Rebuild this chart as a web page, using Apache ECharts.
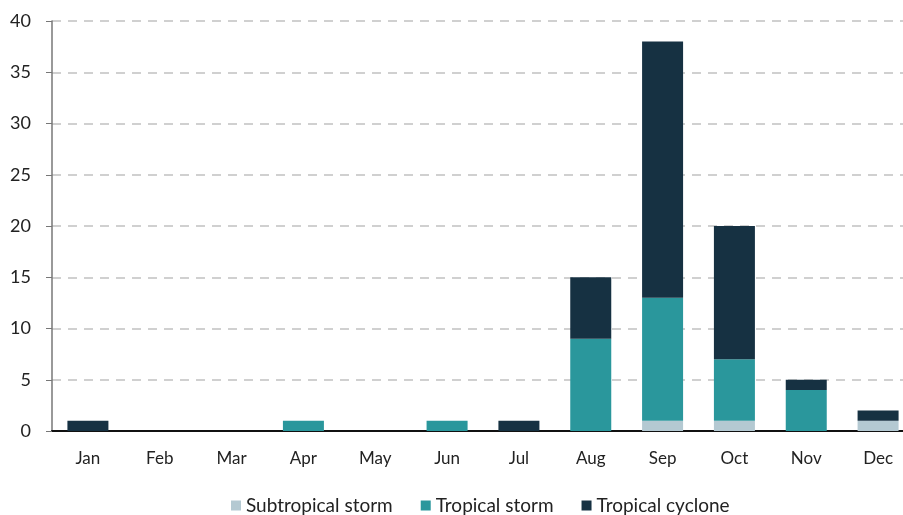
<!DOCTYPE html>
<html><head><meta charset="utf-8">
<script src="https://cdn.jsdelivr.net/npm/echarts@6/dist/echarts.min.js"></script>
<style>html,body{margin:0;padding:0;background:#fff}#c{width:903px;height:515px}</style>
</head><body><div id="c"></div>
<script>
const months = ['Jan','Feb','Mar','Apr','May','Jun','Jul','Aug','Sep','Oct','Nov','Dec'];
const subtropicalStorm = [0,0,0,0,0,0,0,0,1,1,0,1];
const tropicalStorm    = [0,0,0,1,0,1,0,9,12,6,4,0];
const tropicalCyclone  = [1,0,0,0,0,0,1,6,25,13,1,1];
const yTicks = [0,5,10,15,20,25,30,35,40];

const font = 'Lato, "Noto Sans", sans-serif';
const chart = echarts.init(document.getElementById('c'), null, {renderer:'canvas'});
chart.setOption({
  animation:false,
  grid:{left:52, width:862, top:21, bottom:84, containLabel:false, outerBoundsMode:'none'},
  legend:{bottom:-5, left:226, itemWidth:10, itemHeight:10, itemGap:28, icon:'rect',
    textStyle:{fontFamily:font, fontSize:19, color:'#222'},
    data:['Subtropical storm','Tropical storm','Tropical cyclone']},
  xAxis:{type:'category', data:months,
    axisLine:{lineStyle:{color:'#111', width:2}},
    axisTick:{show:false},
    axisLabel:{fontFamily:font, fontSize:17, color:'#222', margin:19}},
  yAxis:{type:'value', min:0, max:40, interval:5,
    axisLine:{show:true, lineStyle:{color:'#777', width:1.5}},
    axisTick:{show:true, length:6, lineStyle:{color:'#777'}},
    axisLabel:{fontFamily:font, fontSize:18, color:'#222', margin:21},
    splitLine:{lineStyle:{color:'#d0d0d0', type:[9,7], width:2}}},
  series:[
    {name:'Subtropical storm', type:'bar', stack:'a', data:subtropicalStorm, barWidth:41, itemStyle:{color:'#b4c9d2'}},
    {name:'Tropical storm', type:'bar', stack:'a', data:tropicalStorm, barWidth:41, itemStyle:{color:'#2a979c'}},
    {name:'Tropical cyclone', type:'bar', stack:'a', data:tropicalCyclone, barWidth:41, itemStyle:{color:'#163142'}}
  ]
});
</script></body></html>
